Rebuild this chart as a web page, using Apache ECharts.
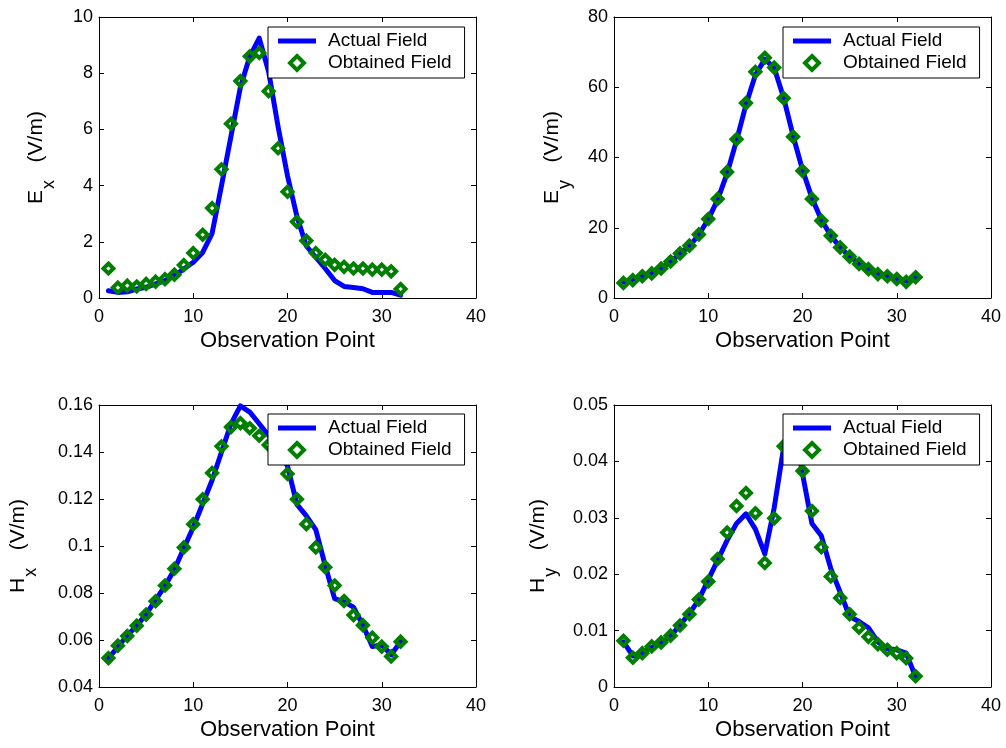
<!DOCTYPE html>
<html>
<head>
<meta charset="utf-8">
<script src="https://cdn.jsdelivr.net/npm/echarts@6/dist/echarts.min.js"></script>
<style>
html,body{margin:0;padding:0;background:#fff;}
#chart{width:1006px;height:748px;}
</style>
</head>
<body>
<div id="chart"></div>
<script>
// ---- data ----
const obs = [1,2,3,4,5,6,7,8,9,10,11,12,13,14,15,16,17,18,19,20,21,22,23,24,25,26,27,28,29,30,31,32];

const exActual   = [0.26,0.2,0.22,0.32,0.38,0.5,0.62,0.8,1.03,1.27,1.62,2.3,4.0,5.75,7.5,8.6,9.25,8.05,6.1,4.35,2.9,1.85,1.45,1.05,0.62,0.41,0.37,0.33,0.2,0.2,0.2,0.1];
const exObtained = [1.05,0.37,0.44,0.41,0.5,0.58,0.67,0.83,1.17,1.6,2.25,3.2,4.58,6.2,7.72,8.6,8.72,7.36,5.33,3.78,2.71,2.04,1.6,1.36,1.18,1.11,1.05,1.05,1.01,1.01,0.95,0.32];

const eyActual   = [4.5,5.3,6.2,7.1,8.4,10.3,12.6,14.8,18.0,22.4,28.0,35.5,44.8,55.0,63.5,68.0,65.5,57.0,46.2,36.5,28.5,22.3,17.8,14.4,11.8,9.8,8.3,7.0,6.2,5.5,4.8,5.8];
const eyObtained = [4.3,5.1,6.2,7.0,8.4,10.4,12.7,14.9,18.1,22.5,28.2,35.9,45.2,55.5,64.4,68.4,65.6,56.9,45.9,36.2,28.2,22.0,17.7,14.4,11.8,9.7,8.2,6.8,6.2,5.4,4.6,5.9];

const hxActual   = [0.0523,0.057,0.062,0.066,0.071,0.077,0.083,0.090,0.099,0.108,0.118,0.128,0.140,0.152,0.1596,0.157,0.152,0.147,0.141,0.134,0.1177,0.1128,0.107,0.0917,0.0776,0.0762,0.074,0.0663,0.0572,0.058,0.0537,0.0593];
const hxObtained = [0.0523,0.0576,0.0617,0.0661,0.0708,0.0765,0.0832,0.0903,0.0994,0.1093,0.1199,0.1311,0.1424,0.1506,0.1523,0.1501,0.1469,0.143,0.138,0.1307,0.1199,0.1093,0.0994,0.091,0.0832,0.0766,0.0706,0.0663,0.061,0.0572,0.053,0.0593];

const hyActual   = [0.008,0.0055,0.006,0.007,0.0078,0.009,0.011,0.013,0.0155,0.019,0.0225,0.026,0.029,0.0307,0.028,0.0236,0.0318,0.0425,0.048,0.0378,0.029,0.0268,0.021,0.0168,0.0125,0.0116,0.0105,0.008,0.0068,0.0066,0.006,0.0018];
const hyObtained = [0.0082,0.0052,0.006,0.0072,0.0079,0.0091,0.0109,0.0129,0.0155,0.0187,0.0227,0.0274,0.0321,0.0344,0.0308,0.022,0.0299,0.0427,0.046,0.0383,0.0312,0.0248,0.0196,0.0158,0.0129,0.0105,0.0089,0.0076,0.0066,0.006,0.0051,0.0019];

const xTicks = {min: 0, max: 40, interval: 10};
const yRanges = [
  {min: 0, max: 10, interval: 2},
  {min: 0, max: 80, interval: 20},
  {min: 0.04, max: 0.16, interval: 0.02},
  {min: 0, max: 0.05, interval: 0.01}
];
const yMain = ['E', 'E', 'H', 'H'];
const ySub = ['x', 'y', 'x', 'y'];
const xLabel = 'Observation Point';
const unitLabel = '(V/m)';
const seriesNames = ['Actual Field', 'Obtained Field'];
const actualSets = [exActual, eyActual, hxActual, hyActual];
const obtainedSets = [exObtained, eyObtained, hxObtained, hyObtained];

// ---- layout ----
const FONT = '"Liberation Sans", Arial, Helvetica, sans-serif';
const grids = [
  {left: 99, top: 17, width: 377, height: 281, outerBoundsMode: 'none', containLabel: false},
  {left: 614, top: 17, width: 377, height: 281, outerBoundsMode: 'none', containLabel: false},
  {left: 99, top: 405, width: 377, height: 282, outerBoundsMode: 'none', containLabel: false},
  {left: 614, top: 405, width: 377, height: 282, outerBoundsMode: 'none', containLabel: false}
];
const nameGaps = [51, 50, 69, 64];
const legendPos = [
  {left: 268, top: 27},
  {left: 783, top: 27},
  {left: 268, top: 414},
  {left: 783, top: 414}
];
const BLUE = '#0000FF';
const GREEN = '#007F00';

const xAxes = [], yAxes = [], series = [], legends = [];
grids.forEach((g, i) => {
  const baseX = {
    type: 'value', gridIndex: i, min: xTicks.min, max: xTicks.max, interval: xTicks.interval,
    axisLine: {show: true, onZero: false, lineStyle: {color: '#000', width: 1}},
    axisTick: {show: true, inside: true, length: 5, lineStyle: {color: '#000'}},
    splitLine: {show: false}
  };
  xAxes.push(Object.assign({}, baseX, {
    position: 'bottom',
    axisLabel: {show: true, color: '#000', fontSize: 18, fontFamily: FONT, margin: 10},
    name: xLabel, nameLocation: 'middle', nameGap: 32,
    nameTextStyle: {color: '#000', fontSize: 22, fontFamily: FONT}
  }));
  xAxes.push(Object.assign({}, baseX, {position: 'top', axisLabel: {show: false}}));

  const r = yRanges[i];
  const baseY = {
    type: 'value', gridIndex: i, min: r.min, max: r.max, interval: r.interval,
    axisLine: {show: true, onZero: false, lineStyle: {color: '#000', width: 1}},
    axisTick: {show: true, inside: true, length: 5, lineStyle: {color: '#000'}},
    splitLine: {show: false}
  };
  yAxes.push(Object.assign({}, baseY, {
    position: 'left',
    axisLabel: {show: true, color: '#000', fontSize: 18, fontFamily: FONT, margin: 6},
    name: '{m|' + yMain[i] + '}{s|' + ySub[i] + '}{m|   ' + unitLabel + '}',
    nameLocation: 'middle', nameRotate: 90, nameGap: nameGaps[i],
    nameTextStyle: {
      color: '#000', fontFamily: FONT,
      rich: {
        m: {fontSize: 21, lineHeight: 24, verticalAlign: 'middle', color: '#000', fontFamily: FONT},
        s: {fontSize: 18, lineHeight: 18, padding: [26, 0, 0, 1], verticalAlign: 'middle', color: '#000', fontFamily: FONT}
      }
    }
  }));
  yAxes.push(Object.assign({}, baseY, {position: 'right', axisLabel: {show: false}}));

  const lineData = obs.map((x, k) => [x, actualSets[i][k]]);
  const scatData = obs.map((x, k) => [x, obtainedSets[i][k]]);
  series.push({
    name: seriesNames[0], type: 'line', xAxisIndex: 2 * i, yAxisIndex: 2 * i,
    data: lineData, symbol: 'none', showSymbol: false, smooth: false,
    lineStyle: {color: BLUE, width: 5, cap: 'round', join: 'round'},
    itemStyle: {color: BLUE}, z: 2, animation: false
  });
  series.push({
    name: seriesNames[1], type: 'scatter', xAxisIndex: 2 * i, yAxisIndex: 2 * i,
    data: scatData, symbol: 'diamond', symbolSize: 10,
    itemStyle: {color: 'rgba(0,0,0,0)', borderColor: GREEN, borderWidth: 4, opacity: 1},
    z: 3, animation: false
  });
  legends.push({
    show: true, orient: 'vertical', left: legendPos[i].left, top: legendPos[i].top,
    backgroundColor: '#fff', borderColor: '#000', borderWidth: 1,
    padding: [4, 13, 5, 10], itemWidth: 38, itemHeight: 14, itemGap: 2,
    selectedMode: false, symbolKeepAspect: true,
    textStyle: {color: '#000', fontSize: 19, fontFamily: FONT, lineHeight: 20, padding: [0, 0, 0, 7]},
    data: [
      {name: seriesNames[0], icon: 'path://M0,0H38V5H0Z', itemStyle: {color: BLUE, borderWidth: 0}},
      {name: seriesNames[1], icon: 'path://M5,0L10,5L5,10L0,5Z',
       itemStyle: {color: 'rgba(0,0,0,0)', borderColor: GREEN, borderWidth: 4, opacity: 1}}
    ],
    z: 10
  });
});

const chart = echarts.init(document.getElementById('chart'), null, {renderer: 'canvas'});
chart.setOption({
  backgroundColor: '#fff',
  animation: false,
  grid: grids,
  xAxis: xAxes,
  yAxis: yAxes,
  legend: legends,
  series: series
});
</script>
</body>
</html>
